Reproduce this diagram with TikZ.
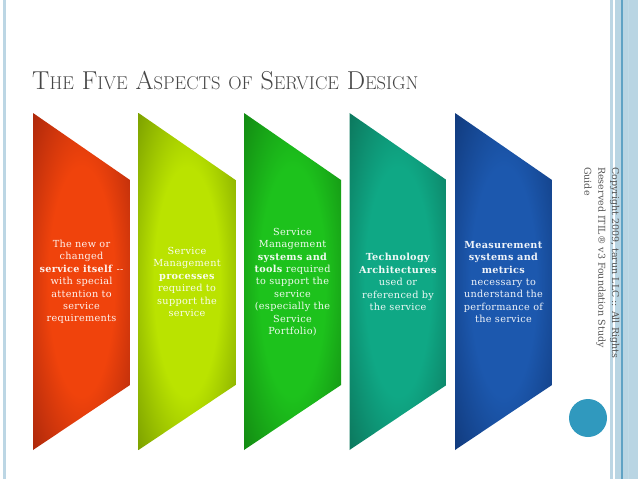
\documentclass[tikz,border=0pt]{standalone}
\usepackage{fontspec}
\usepackage{xcolor}
\usepackage{tikz}
\usetikzlibrary{shapes,positioning,calc}

\newfontfamily\bodyfont[LetterSpace=3]{DejaVu Serif}
\newfontfamily\copyfont{DejaVu Serif}

\definecolor{titlegray}{HTML}{454545}
\definecolor{copygray}{HTML}{555555}
\definecolor{edgeblue}{HTML}{BCD6E4}
\definecolor{panelblue}{HTML}{B9D5E3}
\definecolor{lineblue}{HTML}{5FA2C4}
\definecolor{dotblue}{HTML}{3099BE}
\definecolor{redin}{HTML}{F0430C}
\definecolor{redout}{HTML}{961F0B}
\definecolor{limein}{HTML}{BAE300}
\definecolor{limeout}{HTML}{678A00}
\definecolor{greenin}{HTML}{1DC21C}
\definecolor{greenout}{HTML}{0F760F}
\definecolor{tealin}{HTML}{0FA885}
\definecolor{tealout}{HTML}{0B664F}
\definecolor{bluein}{HTML}{1C58AE}
\definecolor{blueout}{HTML}{0D306C}
\colorlet{glowin}{redin}
\colorlet{glowout}{redout}

\pgfdeclareradialshading[glowin,glowout]{aspglow}{\pgfpoint{0bp}{0bp}}{%
  color(0bp)=(glowin); color(17bp)=(glowin); color(42bp)=(glowout); color(50bp)=(glowout)}

% one aspect: left x, inner colour, outer colour
\newcommand{\aspectshape}[3]{%
  \colorlet{glowin}{#2}\colorlet{glowout}{#3}%
  \shade[shading=aspglow] (#1,113) -- ++(97,67) -- ++(0,205) -- ++(-97,65) -- cycle;}

% small letters of the title
\newcommand{\sccaps}[1]{{\fontsize{18.5}{18.5}\selectfont #1}}

\tikzset{
  aspect text/.style={text=white, text opacity=0.93, align=center, inner sep=0pt,
    font=\bodyfont\fontsize{9.7}{12.4}\selectfont}
}

\begin{document}
\begin{tikzpicture}[x=1pt, y=-1pt]
    \useasboundingbox (0,0) rectangle (638,479);
    \fill[white] (0,0) rectangle (638,479);

    % frame
    \fill[edgeblue] (3,0) rectangle (6,479);
    \fill[edgeblue] (610,0) rectangle (612.5,479);
    \fill[panelblue] (615,0) rectangle (638,479);
    \draw[lineblue, line width=1.2pt] (622,0) -- (622,479);
    \draw[lineblue!40, line width=0.6pt] (628,0) -- (628,479);

    % title
    \node[anchor=base west, text=titlegray, inner sep=0pt, font=\fontsize{25.9}{25.9}\selectfont]
        (title) at (32,89) {T\sccaps{HE} F\sccaps{IVE} A\sccaps{SPECTS} \sccaps{OF} S\sccaps{ERVICE} D\sccaps{ESIGN}};

    % the five aspects
    \aspectshape{33}{redin}{redout}
    \aspectshape{138.5}{limein}{limeout}
    \aspectshape{244}{greenin}{greenout}
    \aspectshape{349.5}{tealin}{tealout}
    \aspectshape{455}{bluein}{blueout}

    \node[aspect text] (itself) at (81.5,282) {The new or\\changed\\\textbf{service itself} --\\with special\\attention to\\service\\requirements};
    \node[aspect text] (processes) at (187,282) {Service\\Management\\\textbf{processes}\\required to\\support the\\service};
    \node[aspect text] (tools) at (292.5,282) {Service\\Management\\\textbf{systems and}\\\textbf{tools} required\\to support the\\service\\(especially the\\Service\\Portfolio)};
    \node[aspect text] (architectures) at (398,282) {\textbf{Technology}\\\textbf{Architectures}\\used or\\referenced by\\the service};
    \node[aspect text] (metrics) at (503.5,282) {\textbf{Measurement}\\\textbf{systems and}\\\textbf{metrics}\\necessary to\\understand the\\performance of\\the service};

    % side note
    \node[rotate=-90, anchor=north west, align=left, inner sep=0pt, text=copygray,
        font=\copyfont\fontsize{9.5}{13.8}\selectfont] (copyright) at (619.5,167)
        {Copyright 2009, tarun LLC :: All Rights\\Reserved ITIL® v3 Foundation Study\\Guide};
    \node[circle, fill=dotblue, minimum size=38pt, inner sep=0pt] (dot) at (588,418) {};
\end{tikzpicture}
\end{document}
